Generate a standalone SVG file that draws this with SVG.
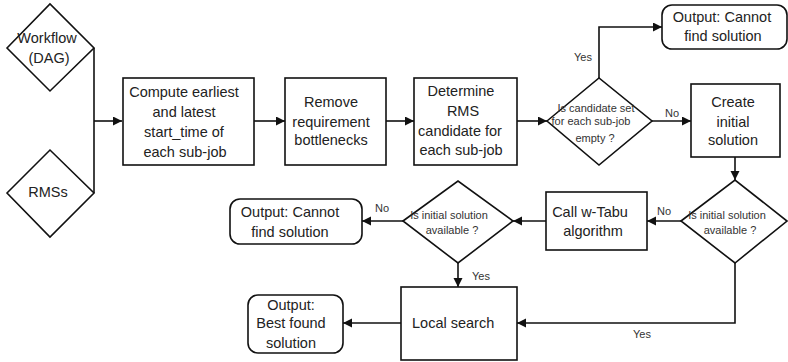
<svg xmlns="http://www.w3.org/2000/svg" width="788" height="362" viewBox="0 0 788 362">
<defs>
<style>
.shape{fill:#fff;stroke:#111;stroke-width:1.6}
.t{font-family:"Liberation Sans",Arial,sans-serif;font-size:14.5px;fill:#222;text-anchor:middle}
.s{font-family:"Liberation Sans",Arial,sans-serif;font-size:11px;fill:#333;text-anchor:middle}
.c{fill:none;stroke:#111;stroke-width:1.6}
</style>
<marker id="ah" markerUnits="userSpaceOnUse" markerWidth="10" markerHeight="10" refX="9" refY="4.5" orient="auto">
<path d="M0,0 L9,4.5 L0,9 z" fill="#111"/>
</marker>
</defs>
<rect width="788" height="362" fill="#fff"/>
<g id="connectors">
<path class="c" d="M94,48 V193"/>
<path class="c" d="M94,121 H122" marker-end="url(#ah)"/>
<path class="c" d="M254,121 H285" marker-end="url(#ah)"/>
<path class="c" d="M386,121 H414" marker-end="url(#ah)"/>
<path class="c" d="M517,121 H547" marker-end="url(#ah)"/>
<path class="c" d="M599,78 V27 H662" marker-end="url(#ah)"/>
<path class="c" d="M652,121 H691" marker-end="url(#ah)"/>
<path class="c" d="M735,157 V180" marker-end="url(#ah)"/>
<path class="c" d="M681,221 H647" marker-end="url(#ah)"/>
<path class="c" d="M546,221 H513" marker-end="url(#ah)"/>
<path class="c" d="M403,221 H362" marker-end="url(#ah)"/>
<path class="c" d="M458,263 V287" marker-end="url(#ah)"/>
<path class="c" d="M735,263 V323 H517" marker-end="url(#ah)"/>
<path class="c" d="M401,323 H343" marker-end="url(#ah)"/>
<text class="s" x="583" y="61">Yes</text>
<text class="s" x="672" y="117">No</text>
<text class="s" x="664" y="215">No</text>
<text class="s" x="382" y="212">No</text>
<text class="s" x="472" y="280" style="text-anchor:start">Yes</text>
<text class="s" x="642" y="338">Yes</text>
</g>
<g id="workflow">
<polygon class="shape" points="7,48 50,4 94,48 50,91"/>
<text class="t" x="47" y="43">Workflow</text>
<text class="t" x="49" y="63">(DAG)</text>
</g>
<g id="rms">
<polygon class="shape" points="7,193 50,150 94,193 50,237"/>
<text class="t" x="48" y="197">RMSs</text>
</g>
<g id="compute">
<rect class="shape" x="123" y="78" width="131" height="87"/>
<text class="t" x="184" y="97">Compute earliest</text>
<text class="t" x="184" y="117">and latest</text>
<text class="t" x="184" y="137">start_time of</text>
<text class="t" x="185" y="157">each sub-job</text>
</g>
<g id="remove">
<rect class="shape" x="285" y="78" width="101" height="87"/>
<text class="t" x="331" y="107">Remove</text>
<text class="t" x="331" y="127">requirement</text>
<text class="t" x="331" y="145">bottlenecks</text>
</g>
<g id="determine">
<rect class="shape" x="414" y="78" width="103" height="87"/>
<text class="t" x="461" y="96">Determine</text>
<text class="t" x="463" y="116">RMS</text>
<text class="t" x="460" y="136">candidate for</text>
<text class="t" x="461" y="155">each sub-job</text>
</g>
<g id="candidate-empty">
<polygon class="shape" points="547,121 599,78 652,121 599,165"/>
<text class="s" x="596" y="112">Is candidate set</text>
<text class="s" x="591" y="125">for each sub-job</text>
<text class="s" x="595" y="142">empty ?</text>
</g>
<g id="output-cannot-top">
<rect class="shape" x="662" y="5" width="125" height="44" rx="10"/>
<text class="t" x="722" y="22">Output: Cannot</text>
<text class="t" x="723" y="41">find solution</text>
</g>
<g id="create">
<rect class="shape" x="691" y="84" width="89" height="73"/>
<text class="t" x="733" y="107">Create</text>
<text class="t" x="733" y="127">initial</text>
<text class="t" x="733" y="145">solution</text>
</g>
<g id="available-right">
<polygon class="shape" points="681,221 735,180 787,221 735,263"/>
<text class="s" x="727" y="219">Is initial solution</text>
<text class="s" x="730" y="234">available ?</text>
</g>
<g id="tabu">
<rect class="shape" x="546" y="192" width="101" height="58"/>
<text class="t" x="590" y="217">Call w-Tabu</text>
<text class="t" x="593" y="236">algorithm</text>
</g>
<g id="available-left">
<polygon class="shape" points="403,221 458,181 513,221 458,263"/>
<text class="s" x="449" y="219">Is initial solution</text>
<text class="s" x="452" y="234">available ?</text>
</g>
<g id="output-cannot-left">
<rect class="shape" x="230" y="199" width="132" height="45" rx="10"/>
<text class="t" x="290" y="217">Output: Cannot</text>
<text class="t" x="290" y="237">find solution</text>
</g>
<g id="local-search">
<rect class="shape" x="401" y="287" width="116" height="73"/>
<text class="t" x="412" y="328" style="text-anchor:start">Local search</text>
</g>
<g id="output-best">
<rect class="shape" x="248" y="295" width="95" height="58" rx="10"/>
<text class="t" x="291" y="310">Output:</text>
<text class="t" x="291" y="328">Best found</text>
<text class="t" x="291" y="348">solution</text>
</g>
</svg>
